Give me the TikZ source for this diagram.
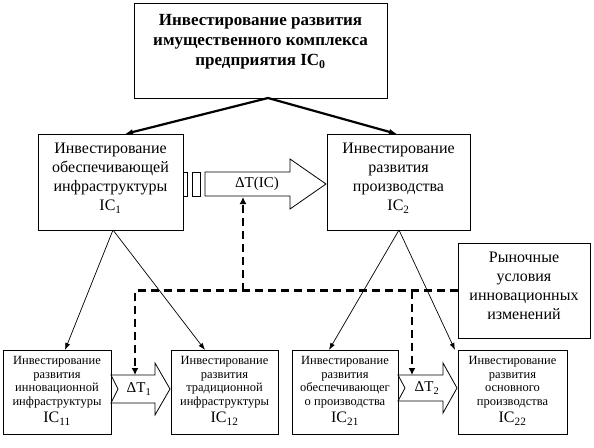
\documentclass[tikz,border=0pt]{standalone}
\usepackage{fontspec}
\setmainfont{Liberation Serif}
\usetikzlibrary{arrows.meta}
\begin{document}
\begin{tikzpicture}[x=1pt,y=-1pt,
  box/.style={draw, line width=0.9pt, inner sep=0pt},
  toptxt/.style={align=center, font=\bfseries\fontsize{17}{20}\selectfont, inner sep=0pt},
  bigtxt/.style={align=center, font=\fontsize{16}{19}\selectfont, inner sep=0pt},
  smalltxt/.style={align=center, font=\fontsize{12.5}{13.5}\selectfont, inner sep=0pt},
  dtxt/.style={font=\fontsize{15}{18}\selectfont, inner sep=0pt},
  thickarrow/.style={line width=2.2pt, -{Latex[length=8pt,width=6pt]}},
  thinarrow/.style={line width=0.7pt, -{Latex[length=7pt,width=5pt]}},
  dasharrow/.style={line width=2.5pt, dash pattern=on 8pt off 5pt, -{Latex[length=7pt,width=7pt]}},
  block/.style={draw, line width=0.8pt, fill=white}]
\useasboundingbox (0,0) rectangle (594,447);
\fill[white] (0,0) rectangle (594,447);

% boxes
\node[box, minimum width=253pt, minimum height=95pt] (top) at (260.5,50.5) {};
\node[toptxt] (toptext) at (260.5,42) {Инвестирование развития\\имущественного комплекса\\предприятия IC\textsubscript{0}};

\node[box, minimum width=145pt, minimum height=96pt] (b1) at (110.5,182) {};
\node[bigtxt] (b1t) at (110.5,178) {Инвестирование\\обеспечивающей\\инфраструктуры\\IC\textsubscript{1}};

\node[box, minimum width=143pt, minimum height=96pt] (b2) at (398.5,182) {};
\node[bigtxt] (b2t) at (398.5,178) {Инвестирование\\развития\\производства\\IC\textsubscript{2}};

\node[box, minimum width=132pt, minimum height=95pt] (mk) at (524,290.5) {};
\node[bigtxt] (mkt) at (524,286) {Рыночные\\условия\\инновационных\\изменений};

\node[box, minimum width=108pt, minimum height=84pt] (c11) at (57,392) {};
\node[smalltxt] (c11t) at (57,391) {Инвестирование\\развития\\инновационной\\инфраструктуры\\[4pt]{\fontsize{16}{17}\selectfont IC\textsubscript{11}}};

\node[box, minimum width=107pt, minimum height=84pt] (c12) at (224.5,392) {};
\node[smalltxt] (c12t) at (224.5,391) {Инвестирование\\развития\\традиционной\\инфраструктуры\\[4pt]{\fontsize{16}{17}\selectfont IC\textsubscript{12}}};

\node[box, minimum width=106pt, minimum height=84pt] (c21) at (345,392) {};
\node[smalltxt] (c21t) at (345,391) {Инвестирование\\развития\\обеспечивающег\\о производства\\[4pt]{\fontsize{16}{17}\selectfont IC\textsubscript{21}}};

\node[box, minimum width=109pt, minimum height=84pt] (c22) at (512.5,392) {};
\node[smalltxt] (c22t) at (512.5,391) {Инвестирование\\развития\\основного\\производства\\[4pt]{\fontsize{16}{17}\selectfont IC\textsubscript{22}}};

% thick arrows from the top box
\coordinate (apex0) at (268,98);
\coordinate (b1in) at (125,134);
\coordinate (b2in) at (397,134);
\draw[thickarrow] (apex0) -- (b1in);
\draw[thickarrow] (apex0) -- (b2in);

% thin arrows
\coordinate (apex1) at (113,230);
\coordinate (apex2) at (399,230);
\coordinate (c11in) at (65,350);
\coordinate (c12in) at (205,350);
\coordinate (c21in) at (329,350);
\coordinate (c22in) at (455,350);
\draw[thinarrow] (apex1) -- (c11in);
\draw[thinarrow] (apex1) -- (c12in);
\draw[thinarrow] (apex2) -- (c21in);
\draw[thinarrow] (apex2) -- (c22in);

% block arrows
\draw[block] (183,172) rectangle (187.5,196);
\draw[block] (192,172) rectangle (200,196);
\draw[block] (205,172) -- (290,172) -- (290,159) -- (326,184) -- (290,209) -- (290,196) -- (205,196) -- cycle;
\node[dtxt] (dtic) at (257,184) {ΔT(IC)};

\draw[block] (111,375) -- (155,375) -- (155,363) -- (170,389) -- (155,415) -- (155,403) -- (111,403) -- (118,389) -- cycle;
\node[dtxt] (dt1) at (139,389) {ΔT\textsubscript{1}};

\draw[block] (398,375) -- (443,375) -- (443,363) -- (457,388) -- (443,413) -- (443,401) -- (398,401) -- (405,388) -- cycle;
\node[dtxt] (dt2) at (427,388) {ΔT\textsubscript{2}};

% dashed influence lines
\coordinate (dticbot) at (243,197);
\coordinate (dt1top) at (135,375);
\coordinate (dt2top) at (412,375);
\coordinate (j1) at (243,290.5);
\coordinate (j2) at (412,290.5);
\draw[dasharrow] (mk.west) -| (dt1top);
\draw[dasharrow] (j1) -- (dticbot);
\draw[dasharrow] (j2) -- (dt2top);
\end{tikzpicture}
\end{document}
